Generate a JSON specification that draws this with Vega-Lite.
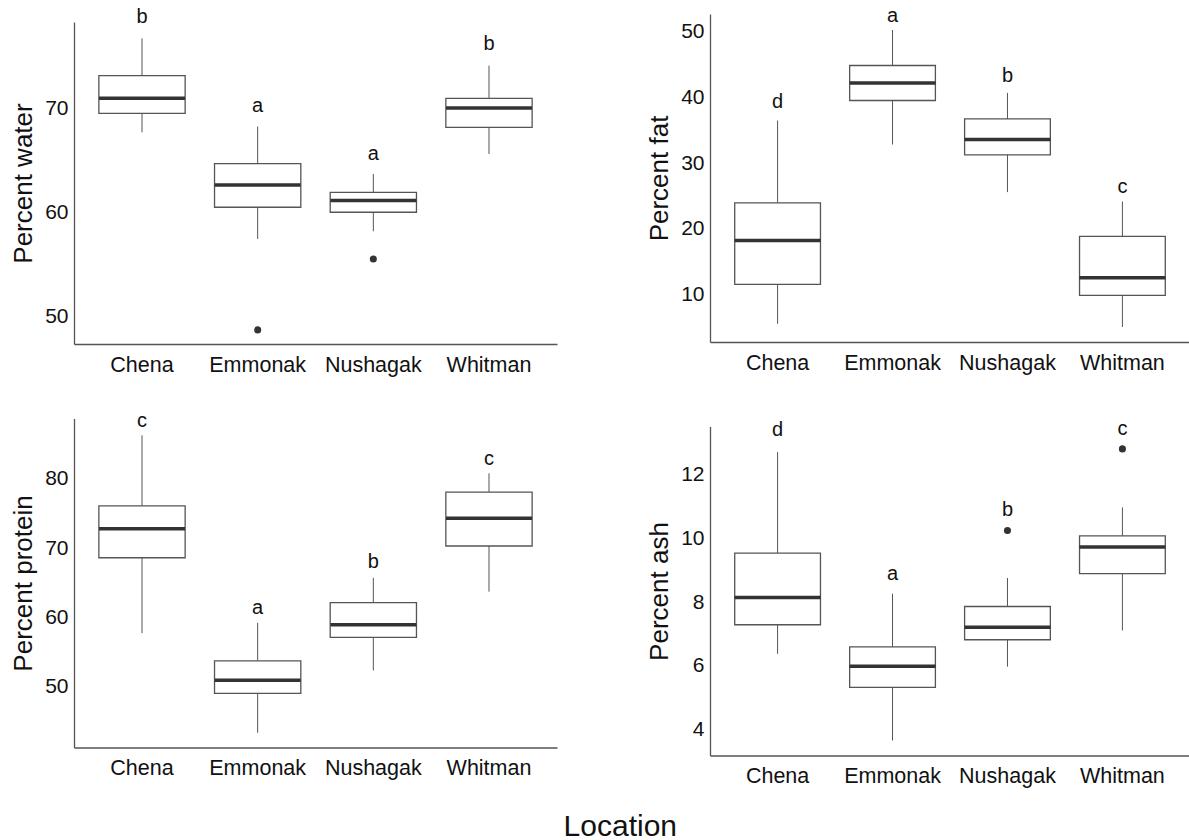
{
  "$schema": "https://vega.github.io/schema/vega-lite/v6.json",
  "padding": {"left": 10, "top": 5, "right": 0, "bottom": 0},
  "background": "white",
  "datasets": {
    "box": [
      {"v": "water", "loc": "Chena", "lo": 67.75, "q1": 69.58, "med": 71.03, "q3": 73.21, "hi": 76.81, "lab": "b", "labY": 78.84},
      {"v": "water", "loc": "Emmonak", "lo": 57.46, "q1": 60.52, "med": 62.67, "q3": 64.73, "hi": 68.3, "lab": "a", "labY": 70.29},
      {"v": "water", "loc": "Nushagak", "lo": 58.2, "q1": 60.04, "med": 61.16, "q3": 61.96, "hi": 63.73, "lab": "a", "labY": 65.66},
      {"v": "water", "loc": "Whitman", "lo": 65.66, "q1": 68.23, "med": 70.1, "q3": 71.03, "hi": 74.18, "lab": "b", "labY": 76.27},
      {"v": "fat", "loc": "Chena", "lo": 5.6, "q1": 11.58, "med": 18.26, "q3": 23.97, "hi": 36.48, "lab": "d", "labY": 39.26},
      {"v": "fat", "loc": "Emmonak", "lo": 32.84, "q1": 39.52, "med": 42.19, "q3": 44.84, "hi": 50.24, "lab": "a", "labY": 52.43},
      {"v": "fat", "loc": "Nushagak", "lo": 25.6, "q1": 31.26, "med": 33.6, "q3": 36.73, "hi": 40.68, "lab": "b", "labY": 43.21},
      {"v": "fat", "loc": "Whitman", "lo": 5.1, "q1": 9.91, "med": 12.58, "q3": 18.87, "hi": 24.18, "lab": "c", "labY": 26.36},
      {"v": "protein", "loc": "Chena", "lo": 57.7, "q1": 68.6, "med": 72.8, "q3": 76.1, "hi": 86.3, "lab": "c", "labY": 88.4},
      {"v": "protein", "loc": "Emmonak", "lo": 43.3, "q1": 49.0, "med": 50.9, "q3": 53.7, "hi": 59.2, "lab": "a", "labY": 61.3},
      {"v": "protein", "loc": "Nushagak", "lo": 52.3, "q1": 57.1, "med": 58.9, "q3": 62.1, "hi": 65.7, "lab": "b", "labY": 68.0},
      {"v": "protein", "loc": "Whitman", "lo": 63.7, "q1": 70.3, "med": 74.3, "q3": 78.1, "hi": 80.8, "lab": "c", "labY": 82.9},
      {"v": "ash", "loc": "Chena", "lo": 6.38, "q1": 7.29, "med": 8.14, "q3": 9.53, "hi": 12.69, "lab": "d", "labY": 13.39},
      {"v": "ash", "loc": "Emmonak", "lo": 3.67, "q1": 5.33, "med": 5.99, "q3": 6.6, "hi": 8.26, "lab": "a", "labY": 8.87},
      {"v": "ash", "loc": "Nushagak", "lo": 5.98, "q1": 6.82, "med": 7.21, "q3": 7.86, "hi": 8.75, "lab": "b", "labY": 10.88},
      {"v": "ash", "loc": "Whitman", "lo": 7.11, "q1": 8.89, "med": 9.72, "q3": 10.07, "hi": 10.96, "lab": "c", "labY": 13.42}
    ],
    "out": [
      {"v": "water", "loc": "Emmonak", "val": 48.69},
      {"v": "water", "loc": "Nushagak", "val": 55.53},
      {"v": "ash", "loc": "Nushagak", "val": 10.24},
      {"v": "ash", "loc": "Whitman", "val": 12.79}
    ]
  },
  "config": {
    "view": {"stroke": null},
    "font": "Liberation Sans",
    "axis": {"grid": false, "ticks": false, "tickSize": 0, "domainColor": "#555555", "domainWidth": 1.3, "labelFont": "Liberation Sans", "titleFont": "Liberation Sans", "labelColor": "#111111", "titleColor": "#111111", "titleFontWeight": "normal"},
    "axisY": {"labelFontSize": 21, "titleFontSize": 26, "titlePadding": 8, "labelPadding": 6},
    "axisX": {"labelFontSize": 21.5, "labelPadding": 10, "labelAngle": 0},
    "text": {"font": "Liberation Sans"}
  },
  "title": {"text": "Location", "orient": "bottom", "anchor": "middle", "fontSize": 30, "font": "Liberation Sans", "fontWeight": "normal", "color": "#111111", "offset": 25, "dx": 20},
  "spacing": 89,
  "center": true,
  "hconcat": [
    {
      "spacing": 34.5,
      "vconcat": [
        {
          "width": 483, "height": 322,
          "data": {"name": "box"},
          "transform": [{"filter": "datum.v == 'water'"}],
          "encoding": {"x": {"field": "loc", "type": "nominal", "title": null, "scale": {"paddingInner": 0.254, "paddingOuter": 0.215}}},
          "layer": [
            {"mark": {"type": "rule", "color": "#555555", "strokeWidth": 1}, "encoding": {"y": {"field": "lo", "type": "quantitative", "title": "Percent water", "scale": {"domain": [47.33, 78.39], "nice": false, "zero": false}, "axis": {"values": [50, 60, 70]}}, "y2": {"field": "hi"}}},
            {"mark": {"type": "bar", "fill": "white", "stroke": "#555555", "strokeWidth": 1.3}, "encoding": {"y": {"field": "q1", "type": "quantitative", "title": "Percent water"}, "y2": {"field": "q3"}}},
            {"mark": {"type": "tick", "color": "#333333", "opacity": 1, "thickness": 3.5, "size": 86}, "encoding": {"y": {"field": "med", "type": "quantitative", "title": "Percent water"}}},
            {"mark": {"type": "text", "fontSize": 20, "baseline": "middle", "color": "#111111"}, "encoding": {"y": {"field": "labY", "type": "quantitative", "title": "Percent water"}, "text": {"field": "lab"}}},
            {"data": {"name": "out"}, "transform": [{"filter": "datum.v == 'water'"}], "mark": {"type": "circle", "size": 50, "color": "#333333", "opacity": 1}, "encoding": {"y": {"field": "val", "type": "quantitative", "title": "Percent water"}}}
          ]
        },
        {
          "width": 483, "height": 329,
          "data": {"name": "box"},
          "transform": [{"filter": "datum.v == 'protein'"}],
          "encoding": {"x": {"field": "loc", "type": "nominal", "title": null, "scale": {"paddingInner": 0.254, "paddingOuter": 0.215}}},
          "layer": [
            {"mark": {"type": "rule", "color": "#555555", "strokeWidth": 1}, "encoding": {"y": {"field": "lo", "type": "quantitative", "title": "Percent protein", "scale": {"domain": [41.17, 88.73], "nice": false, "zero": false}, "axis": {"values": [50, 60, 70, 80]}}, "y2": {"field": "hi"}}},
            {"mark": {"type": "bar", "fill": "white", "stroke": "#555555", "strokeWidth": 1.3}, "encoding": {"y": {"field": "q1", "type": "quantitative", "title": "Percent protein"}, "y2": {"field": "q3"}}},
            {"mark": {"type": "tick", "color": "#333333", "opacity": 1, "thickness": 3.5, "size": 86}, "encoding": {"y": {"field": "med", "type": "quantitative", "title": "Percent protein"}}},
            {"mark": {"type": "text", "fontSize": 20, "baseline": "middle", "color": "#111111"}, "encoding": {"y": {"field": "labY", "type": "quantitative", "title": "Percent protein"}, "text": {"field": "lab"}}}
          ]
        }
      ]
    },
    {
      "spacing": 44.5,
      "vconcat": [
        {
          "width": 480, "height": 328,
          "data": {"name": "box"},
          "transform": [{"filter": "datum.v == 'fat'"}],
          "encoding": {"x": {"field": "loc", "type": "nominal", "title": null, "scale": {"paddingInner": 0.254, "paddingOuter": 0.215}}},
          "layer": [
            {"mark": {"type": "rule", "color": "#555555", "strokeWidth": 1}, "encoding": {"y": {"field": "lo", "type": "quantitative", "title": "Percent fat", "scale": {"domain": [2.82, 52.67], "nice": false, "zero": false}, "axis": {"values": [10, 20, 30, 40, 50]}}, "y2": {"field": "hi"}}},
            {"mark": {"type": "bar", "fill": "white", "stroke": "#555555", "strokeWidth": 1.3}, "encoding": {"y": {"field": "q1", "type": "quantitative", "title": "Percent fat"}, "y2": {"field": "q3"}}},
            {"mark": {"type": "tick", "color": "#333333", "opacity": 1, "thickness": 3.5, "size": 86}, "encoding": {"y": {"field": "med", "type": "quantitative", "title": "Percent fat"}}},
            {"mark": {"type": "text", "fontSize": 20, "baseline": "middle", "color": "#111111"}, "encoding": {"y": {"field": "labY", "type": "quantitative", "title": "Percent fat"}, "text": {"field": "lab"}}}
          ]
        },
        {
          "width": 480, "height": 329,
          "data": {"name": "box"},
          "transform": [{"filter": "datum.v == 'ash'"}],
          "encoding": {"x": {"field": "loc", "type": "nominal", "title": null, "scale": {"paddingInner": 0.254, "paddingOuter": 0.215}}},
          "layer": [
            {"mark": {"type": "rule", "color": "#555555", "strokeWidth": 1}, "encoding": {"y": {"field": "lo", "type": "quantitative", "title": "Percent ash", "scale": {"domain": [3.2, 13.49], "nice": false, "zero": false}, "axis": {"values": [4, 6, 8, 10, 12]}}, "y2": {"field": "hi"}}},
            {"mark": {"type": "bar", "fill": "white", "stroke": "#555555", "strokeWidth": 1.3}, "encoding": {"y": {"field": "q1", "type": "quantitative", "title": "Percent ash"}, "y2": {"field": "q3"}}},
            {"mark": {"type": "tick", "color": "#333333", "opacity": 1, "thickness": 3.5, "size": 86}, "encoding": {"y": {"field": "med", "type": "quantitative", "title": "Percent ash"}}},
            {"mark": {"type": "text", "fontSize": 20, "baseline": "middle", "color": "#111111"}, "encoding": {"y": {"field": "labY", "type": "quantitative", "title": "Percent ash"}, "text": {"field": "lab"}}},
            {"data": {"name": "out"}, "transform": [{"filter": "datum.v == 'ash'"}], "mark": {"type": "circle", "size": 50, "color": "#333333", "opacity": 1}, "encoding": {"y": {"field": "val", "type": "quantitative", "title": "Percent ash"}}}
          ]
        }
      ]
    }
  ]
}
